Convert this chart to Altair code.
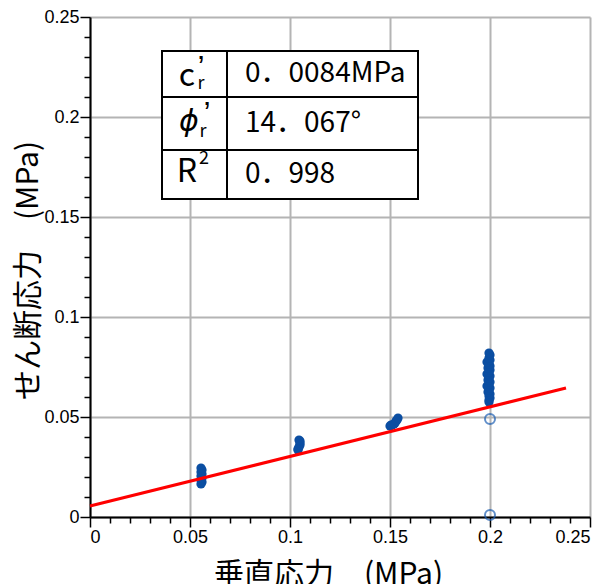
import altair as alt
import pandas as pd

# ---- data ----
c1_x = [0.0555, 0.056, 0.0555, 0.056, 0.0555, 0.056, 0.0555, 0.056, 0.0555]
c1_y = [0.0165, 0.0175, 0.0185, 0.0195, 0.0205, 0.0215, 0.0225, 0.0235, 0.0245]
c2_x = [0.104, 0.104, 0.1045, 0.105, 0.105, 0.105, 0.1045]
c2_y = [0.0335, 0.034, 0.035, 0.036, 0.037, 0.038, 0.0385]
c3_x = [0.150, 0.1505, 0.151, 0.152, 0.1525, 0.153, 0.1535, 0.154]
c3_y = [0.0455, 0.046, 0.046, 0.0465, 0.047, 0.048, 0.0485, 0.0495]
c4_x = [0.1995, 0.1995, 0.2, 0.1995, 0.2, 0.199, 0.1995, 0.2, 0.1985, 0.1995,
        0.2, 0.199, 0.1995, 0.2, 0.1985, 0.1995, 0.2, 0.199, 0.2, 0.1995,
        0.1985, 0.2, 0.1995, 0.2, 0.1995]
c4_y = [0.0575, 0.0585, 0.0595, 0.0605, 0.0615, 0.0625, 0.0635, 0.0645, 0.0655, 0.0665,
        0.0675, 0.0685, 0.0695, 0.0705, 0.0715, 0.0725, 0.0735, 0.0745, 0.0755, 0.0765,
        0.0775, 0.0785, 0.0795, 0.081, 0.082]
open_x = [0.2, 0.2]
open_y = [0.049, 0.001]
line_x = [0.0, 0.238]
line_y = [0.0055, 0.0645]

tick_values = [round(i * 0.01, 2) for i in range(26)]

table_values = ["0．0084MPa", "14．067°", "0．998"]

# ---- frames ----
pts = pd.DataFrame({"x": c1_x + c2_x + c3_x + c4_x, "y": c1_y + c2_y + c3_y + c4_y})
opn = pd.DataFrame({"x": open_x, "y": open_y})
fit = pd.DataFrame({"x": line_x, "y": line_y})

# table layout (in data units of the chart)
tx0, tx1, tx2 = 0.036, 0.0685, 0.164
ty = [0.233, 0.21, 0.1835, 0.159]
cells = pd.DataFrame([
    {"x": a, "x2": b, "y": ty[r], "y2": ty[r + 1]}
    for r in range(3) for (a, b) in [(tx0, tx1), (tx1, tx2)]
])
row_mid = [(ty[r] + ty[r + 1]) / 2 for r in range(3)]
vals = pd.DataFrame({"x": [0.0775] * 3, "y": row_mid, "t": table_values})
sym_main = pd.DataFrame({"x": [0.0485, 0.0485], "y": [0.2205, 0.1725], "t": ["c", "R"]})
sym_phi = pd.DataFrame({"x": [0.0495], "y": [0.1975], "t": ["ϕ"]})
sym_sub = pd.DataFrame({"x": [0.0555, 0.0565], "y": [0.2165, 0.1925], "t": ["r", "r"]})
sym_prime = pd.DataFrame({"x": [0.0555, 0.0585], "y": [0.2245, 0.2015], "t": ["’", "’"]})
sym_sup = pd.DataFrame({"x": [0.057], "y": [0.179], "t": ["2"]})

major = "round(datum.value*100) % 5 == 0"
xs = alt.Scale(domain=[0, 0.25], nice=False, zero=False)
ys = alt.Scale(domain=[0, 0.25], nice=False, zero=False)

JP = "Noto Sans CJK JP"


def axis(title, orient):
    common = dict(
        values=tick_values,
        format="~g",
        labelExpr=f"({major}) ? datum.label : ''",
        labelOverlap=False,
        labelFont="Liberation Sans",
        labelFontSize=18,
        labelColor="black",
        tickSize={"condition": {"test": major, "value": 10}, "value": 6},
        gridOpacity={"condition": {"test": major, "value": 1}, "value": 0},
        title=title,
        titleFont=JP,
        titleFontSize=30,
        titleFontWeight="normal",
        titleColor="black",
    )
    if orient == "bottom":
        common.update(titleX=238, titleY=57, titleAnchor="middle", labelPadding=1,
                      titleAlign="center", titleBaseline="middle")
    else:
        common.update(titleX=-62, titleY=253, titleAngle=-90, titleAlign="center",
                      titleBaseline="middle", labelPadding=1)
    return alt.Axis(**common)


X = alt.X("x:Q", scale=xs, axis=axis("垂直応力　(MPa)", "bottom"))
Y = alt.Y("y:Q", scale=ys, axis=axis("せん断応力　(MPa)", "left"))


def txt(df, **kw):
    return alt.Chart(df).mark_text(align="center", baseline="middle", color="black",
                                   **kw).encode(x=X, y=Y, text="t:N")


points = alt.Chart(pts).mark_circle(size=85, color="#0b4ea2", opacity=1).encode(x=X, y=Y)
opens = alt.Chart(opn).mark_point(size=100, shape="circle", filled=False,
                                  color="#1d5fb3", strokeWidth=2).encode(x=X, y=Y)
line = alt.Chart(fit).mark_line(color="#ff0000", strokeWidth=3).encode(x=X, y=Y)

table = alt.Chart(cells).mark_rect(fill="white", stroke="black", strokeWidth=2).encode(
    x=X, x2="x2:Q", y=Y, y2="y2:Q")
vtext = alt.Chart(vals).mark_text(font=JP, fontSize=28, align="left", baseline="middle",
                                  color="black").encode(x=X, y=Y, text="t:N")
smain = txt(sym_main, font=JP, fontSize=32)
sphi = txt(sym_phi, font="DejaVu Sans", fontSize=30, fontStyle="italic")
ssub = txt(sym_sub, font=JP, fontSize=18)
sprime = txt(sym_prime, font="Liberation Sans", fontSize=32)
ssup = txt(sym_sup, font=JP, fontSize=18)

chart = alt.layer(points, opens, line, table, vtext, smain, sphi, ssub, sprime, ssup).properties(
    width=500, height=500,
    autosize=alt.AutoSizeParams(type="none"),
    padding={"left": 90, "top": 17, "right": 23, "bottom": 67},
    background="white",
).configure_axis(
    domainColor="black", domainWidth=2,
    tickColor="black", tickWidth=1.5,
    gridColor="#b4b4b4", gridWidth=2,
).configure_view(strokeWidth=0)

chart.save("out.html", embed_options={"renderer": "svg", "actions": False})
